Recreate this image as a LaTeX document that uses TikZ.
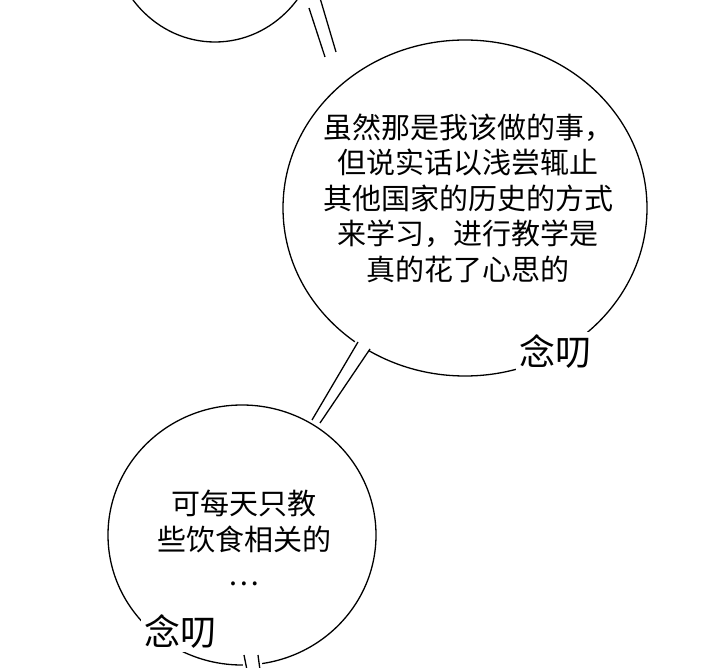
\documentclass[tikz,border=0pt]{standalone}
\usepackage{fontspec}
\newfontfamily\cjk{Noto Sans CJK SC}
\usetikzlibrary{positioning}
\begin{document}
\begin{tikzpicture}[
  x=1pt, y=-1pt,
  line width=1.3pt,
  words/.style = {align=center, font=\cjk\fontsize{29}{35.5}\selectfont},
  mutter/.style = {font=\cjk\fontsize{36}{36}\selectfont, fill=white, inner sep=3pt}
]
\useasboundingbox (0,0) rectangle (720,668);
\begin{scope}
\clip (0,0) rectangle (720,668);
% bubbles
\draw (215,-70) ellipse [x radius=105, y radius=112];
\draw (465,208) ellipse [x radius=182, y radius=168];
\draw (242,535) ellipse [x radius=134, y radius=130];
% tails
\draw[fill=white, draw=none] (309,8) -- (322,-2) -- (340,55) -- (322,60) -- cycle;
\draw (309,8) -- (325,57);
\draw (320,-2) -- (336,52);
\draw[fill=white, draw=none] (356,340) -- (372,346) -- (322,425) -- (308,420) -- cycle;
\draw (358,342) -- (312,420);
\draw (370,349) -- (320,423);
\draw[fill=white, draw=none] (243,650) -- (262,650) -- (262,670) -- (243,670) -- cycle;
\draw (244,655) -- (247,670);
\draw (258,655) -- (260,670);
\end{scope}
% texts
\node[words] (say) at (468,198) {虽然那是我该做的事，\\但说实话以浅尝辄止\\其他国家的历史的方式\\来学习，进行教学是\\真的花了心思的};
\node[mutter] (mut) at (555,352) {念叨};
\node[words] (ask) at (244,538) {可每天只教\\些饮食相关的\\…};
\node[mutter] (mut2) at (180,632) {念叨};
\end{tikzpicture}
\end{document}
